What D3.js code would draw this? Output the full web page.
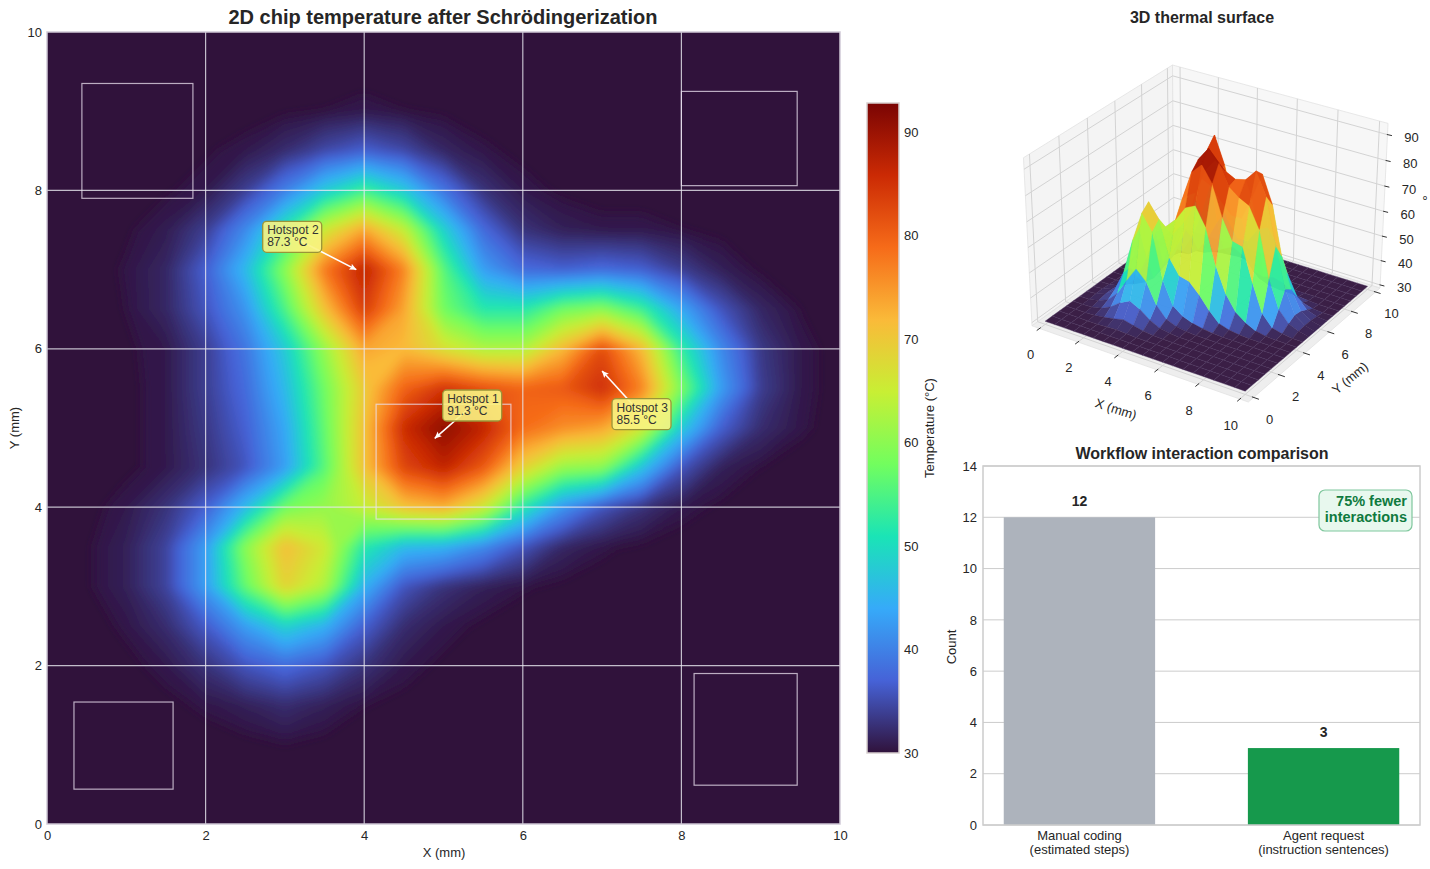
<!DOCTYPE html>
<html>
<head>
<meta charset="utf-8">
<script src="https://cdn.jsdelivr.net/npm/d3@7"></script>
<style>
  body { margin: 0; background: #fff; }
  svg { display: block; font-family: "Liberation Sans", Arial, sans-serif; fill: #262626; }
  .domain { display: none; }
</style>
</head>
<body>
<div id="chart"></div>
<script>
// Temperature, every 0.5 mm. First row is y = 0, first column x = 0
const temperatureGrid = [
  [30,30,30,30,30,30,30,30,30,30,30,30,30,30,30,30,30,30,30,30,30],
  [30,30,30,30,30,30,30,30,30,30,30,30,30,30,30,30,30,30,30,30,30],
  [30,30,30,30,30,30.2,30.5,30.2,30,30,30,30,30,30,30,30,30,30,30,30,30],
  [30,30,30,30.2,30.8,31.5,32.5,31.5,30.6,30.2,30,30,30,30,30,30,30,30,30,30,30],
  [30,30,30.2,31,33,36,38,36,33,31,30.3,30,30,30,30,30,30,30,30,30,30],
  [30,30,30.8,32.5,36.5,43,49,45,37,32.5,31,30.3,30,30,30,30,30,30,30,30,30],
  [30,30.4,31.5,34.5,43,57,69,63,45,36,33,31.5,30.7,30.2,30,30,30,30,30,30,30],
  [30,30.4,31.5,34.5,43,60,71.5,66,52,46,45,41,36,32,30.8,30.2,30,30,30,30,30],
  [30,30.2,31,33,37,46,58,61,65,71,73,66,52,42,36,33,31,30.3,30,30,30],
  [30,30,30.3,31,33,36,43,56,71,83,87,81,69,61,60,47,36,31.5,30.5,30,30],
  [30,30,30.3,31,33.5,37,44,57,71,86,91.3,87,79,76,74,66,48,37,32.5,30.8,30],
  [30,30,30.3,31,34,38,46,58,70,80,85,82,80,81,85.5,77,59,43,34,31,30],
  [30,30,30.4,31,34,39,48,61,74,72,67,63,63,72,82.5,72,53,41,33.5,31,30],
  [30,30,30.6,32,36,42,55,71,84,74,58,52,52,58,60,54,44,36,32,30.5,30],
  [30,30,30.7,32,37,46,60,78,87.3,77,56,43,38,37,38,37,34,31.5,30.3,30,30],
  [30,30,30.4,31.2,34,41,52,66,74,65,49,38,33,31.5,31,31,30.6,30.2,30,30,30],
  [30,30,30,30.4,31,34,40,48,54,48,39,33,31,30.3,30,30,30,30,30,30,30],
  [30,30,30,30,30.4,31,32.5,35,37,35,32,30.8,30.2,30,30,30,30,30,30,30,30],
  [30,30,30,30,30,30,30.3,30.6,31,30.6,30.3,30,30,30,30,30,30,30,30,30,30],
  [30,30,30,30,30,30,30,30,30,30,30,30,30,30,30,30,30,30,30,30,30],
  [30,30,30,30,30,30,30,30,30,30,30,30,30,30,30,30,30,30,30,30,30]
];

const turboColors = ["#30123b","#4662d7","#36aaf9","#1ae4b6","#72fe5e","#c8ef34","#faba39","#f66b19","#cb2a04","#7a0403"];
const tempDomain = [30, 92.8];
const colorbarTicks = [30, 40, 50, 60, 70, 80, 90];
const mapTicks = [0, 2, 4, 6, 8, 10];

// Chip blocks in mm: x0, x1, y0, y1
const blockX0 = [0.44, 8.0, 4.15, 0.34, 8.16];
const blockX1 = [1.84, 9.46, 5.85, 1.59, 9.46];
const blockY0 = [7.9, 8.06, 3.85, 0.44, 0.49];
const blockY1 = [9.35, 9.25, 5.3, 1.54, 1.9];

// Hotspot annotations: target and label corner in mm
const hotspotNames = ["Hotspot 1", "Hotspot 2", "Hotspot 3"];
const hotspotTemps = ["91.3 °C", "87.3 °C", "85.5 °C"];
const hotspotX = [4.89, 3.9, 7.0];
const hotspotY = [4.87, 7.0, 5.72];
const labelX = [4.99, 2.72, 7.125];
const labelY = [5.48, 7.61, 5.37];

const surfaceXTicks = [0, 2, 4, 6, 8, 10];
const surfaceYTicks = [0, 2, 4, 6, 8, 10];
const surfaceZTicks = [30, 40, 50, 60, 70, 80, 90];

const barLabels = [["Manual coding", "(estimated steps)"], ["Agent request", "(instruction sentences)"]];
const barValues = [12, 3];
const barColors = ["#adb3bc", "#16994c"];
const countTicks = [0, 2, 4, 6, 8, 10, 12, 14];

const svg = d3.select("#chart").append("svg")
  .attr("width", 1430)
  .attr("height", 869);

const defs = svg.append("defs");
const gridColor = "#cccccc";

// Shared colour scale
const color = d3.scaleLinear()
  .domain(turboColors.map((c, i) => tempDomain[0] + (tempDomain[1] - tempDomain[0]) * i / (turboColors.length - 1)))
  .range(turboColors)
  .clamp(true);

// ---------- 2D heat map ----------
const x = d3.scaleLinear().domain([0, 10]).range([47, 840]);
const y = d3.scaleLinear().domain([0, 10]).range([824, 32]);

defs.append("clipPath").attr("id", "map-clip")
  .append("rect").attr("x", 47).attr("y", 32).attr("width", 793).attr("height", 792);
defs.append("filter").attr("id", "soften")
  .attr("filterUnits", "userSpaceOnUse")
  .attr("x", 0).attr("y", 0).attr("width", 900).attr("height", 869)
  .append("feGaussianBlur").attr("stdDeviation", 5);

const map = svg.append("g").attr("clip-path", "url(#map-clip)");
map.append("rect")
  .attr("x", 47).attr("y", 32).attr("width", 793).attr("height", 792)
  .attr("fill", turboColors[0]);

const flatGrid = temperatureGrid.flat();
const contours = d3.contours()
  .size([21, 21])
  .thresholds(d3.range(30.6, 92, 0.4))(flatGrid);

// contour cells are centred on i + 0.5
const contourPath = d3.geoPath(d3.geoTransform({
  point(gx, gy) { this.stream.point(x((gx - 0.5) * 0.5), y((gy - 0.5) * 0.5)); }
}));

map.append("g")
  .attr("filter", "url(#soften)")
  .selectAll("path")
  .data(contours)
  .join("path")
  .attr("d", contourPath)
  .attr("fill", d => color(d.value));

// Grid lines over the field
const gridLineColor = "rgba(232,232,240,0.8)";
map.append("g").selectAll("line")
  .data([2, 4, 6, 8])
  .join("line")
  .attr("x1", d => x(d)).attr("x2", d => x(d))
  .attr("y1", 32).attr("y2", 824)
  .attr("stroke", gridLineColor).attr("stroke-width", 1.2);
map.append("g").selectAll("line")
  .data([2, 4, 6, 8])
  .join("line")
  .attr("y1", d => y(d)).attr("y2", d => y(d))
  .attr("x1", 47).attr("x2", 840)
  .attr("stroke", gridLineColor).attr("stroke-width", 1.2);

// Chip blocks
map.append("g").selectAll("rect")
  .data(blockX0)
  .join("rect")
  .attr("x", d => x(d))
  .attr("y", (d, i) => y(blockY1[i]))
  .attr("width", (d, i) => x(blockX1[i]) - x(d))
  .attr("height", (d, i) => y(blockY0[i]) - y(blockY1[i]))
  .attr("fill", "none")
  .attr("stroke", "rgba(235,225,240,0.75)")
  .attr("stroke-width", 1.2);

svg.append("rect")
  .attr("x", 47).attr("y", 32).attr("width", 793).attr("height", 792)
  .attr("fill", "none").attr("stroke", "#cfc9d6").attr("stroke-width", 1.5);

svg.append("g")
  .attr("transform", "translate(0,824)")
  .call(d3.axisBottom(x).tickValues(mapTicks).tickSize(0).tickPadding(7));
svg.append("g")
  .attr("transform", "translate(47,0)")
  .call(d3.axisLeft(y).tickValues(mapTicks).tickSize(0).tickPadding(5));

svg.append("text").attr("x", 443).attr("y", 24)
  .attr("text-anchor", "middle").style("font-size", "20px").style("font-weight", "bold")
  .text("2D chip temperature after Schrödingerization");
svg.append("text").attr("x", 444).attr("y", 857)
  .attr("text-anchor", "middle").style("font-size", "13px").text("X (mm)");
svg.append("text").attr("transform", "translate(19,428) rotate(-90)")
  .attr("text-anchor", "middle").style("font-size", "13px").text("Y (mm)");

// Hotspot annotations
defs.append("marker").attr("id", "arrow")
  .attr("viewBox", "0 0 10 10").attr("refX", 9.5).attr("refY", 5)
  .attr("markerWidth", 7).attr("markerHeight", 7).attr("markerUnits", "userSpaceOnUse")
  .attr("orient", "auto")
  .append("path").attr("d", "M0,0.5 L10,5 L0,9.5 L2,5 Z").attr("fill", "#fff");

const boxW = 59, boxH = 31;
const notes = svg.append("g").selectAll("g")
  .data(hotspotNames)
  .join("g");
notes.append("line")
  .attr("x1", (d, i) => x(labelX[i]) + boxW / 2)
  .attr("y1", (d, i) => y(labelY[i]) + boxH / 2)
  .attr("x2", (d, i) => x(hotspotX[i]))
  .attr("y2", (d, i) => y(hotspotY[i]))
  .attr("stroke", "#fff").attr("stroke-width", 1.6)
  .attr("marker-end", "url(#arrow)");
notes.append("rect")
  .attr("x", (d, i) => x(labelX[i]))
  .attr("y", (d, i) => y(labelY[i]))
  .attr("width", boxW).attr("height", boxH).attr("rx", 4)
  .attr("fill", "rgba(250,243,130,0.9)")
  .attr("stroke", "#9a9438").attr("stroke-width", 1.3);
notes.append("text")
  .attr("x", (d, i) => x(labelX[i]) + 4.5)
  .attr("y", (d, i) => y(labelY[i]) + 13)
  .style("font-size", "12px").style("fill", "#333")
  .text(d => d);
notes.append("text")
  .attr("x", (d, i) => x(labelX[i]) + 4.5)
  .attr("y", (d, i) => y(labelY[i]) + 25)
  .style("font-size", "12px").style("fill", "#333")
  .text((d, i) => hotspotTemps[i]);

// ---------- Colour bar ----------
const barScale = d3.scaleLinear().domain(tempDomain).range([753, 103]);
const gradient = defs.append("linearGradient").attr("id", "temp-gradient")
  .attr("x1", 0).attr("y1", 1).attr("x2", 0).attr("y2", 0);
gradient.selectAll("stop")
  .data(turboColors)
  .join("stop")
  .attr("offset", (d, i) => i / (turboColors.length - 1))
  .attr("stop-color", d => d);
svg.append("rect")
  .attr("x", 867).attr("y", 103).attr("width", 32).attr("height", 650)
  .attr("fill", "url(#temp-gradient)")
  .attr("stroke", "#d8d0d0").attr("stroke-width", 1.5);
svg.append("g")
  .attr("transform", "translate(899,0)")
  .call(d3.axisRight(barScale).tickValues(colorbarTicks).tickSize(0).tickPadding(5));
svg.append("text").attr("transform", "translate(934,428) rotate(-90)")
  .attr("text-anchor", "middle").style("font-size", "13px").text("Temperature (°C)");

// ---------- 3D surface ----------
const xLim = [-0.4, 10.4], yLim = [-0.4, 10.4], zLim = [28.7, 94.3];
const boxAspect = [1.19, 1.19, 0.93];
const azim = -57 * Math.PI / 180, elev = 30 * Math.PI / 180, camDist = 10;
const norm = [
  d3.scaleLinear().domain(xLim).range([-boxAspect[0] / 2, boxAspect[0] / 2]),
  d3.scaleLinear().domain(yLim).range([-boxAspect[1] / 2, boxAspect[1] / 2]),
  d3.scaleLinear().domain(zLim).range([-boxAspect[2] / 2, boxAspect[2] / 2])
];
const w = [Math.cos(elev) * Math.cos(azim), Math.cos(elev) * Math.sin(azim), Math.sin(elev)];
const u = [-Math.sin(azim), Math.cos(azim), 0];
const v = [w[1] * u[2] - w[2] * u[1], w[2] * u[0] - w[0] * u[2], w[0] * u[1] - w[1] * u[0]];

function camera(px, py, pz) {
  const p = [norm[0](px), norm[1](py), norm[2](pz)];
  const depth = camDist - d3.sum(p, (c, i) => c * w[i]);
  return {
    h: d3.sum(p, (c, i) => c * u[i]) / depth,
    v: d3.sum(p, (c, i) => c * v[i]) / depth,
    depth
  };
}
const screenX = d3.scaleLinear()
  .domain([camera(xLim[0], yLim[0], zLim[0]).h, camera(xLim[1], yLim[1], zLim[0]).h])
  .range([1032, 1380]);
const screenY = d3.scaleLinear()
  .domain([camera(xLim[1], yLim[0], zLim[0]).v, camera(xLim[0], yLim[1], zLim[1]).v])
  .range([402, 65]);
const project = (px, py, pz) => {
  const c = camera(px, py, pz);
  return [screenX(c.h), screenY(c.v)];
};
const line3d = d3.line();

const scene = svg.append("g");
const [x0, x1] = xLim, [y0, y1] = yLim, [z0, z1] = zLim;
const panes = [
  { pts: [[x0, y0, z0], [x0, y1, z0], [x0, y1, z1], [x0, y0, z1]], fill: "#f4f4f4" },
  { pts: [[x0, y1, z0], [x1, y1, z0], [x1, y1, z1], [x0, y1, z1]], fill: "#f7f7f7" },
  { pts: [[x0, y0, z0], [x1, y0, z0], [x1, y1, z0], [x0, y1, z0]], fill: "#eeeeee" }
];
scene.selectAll(".pane")
  .data(panes)
  .join("path")
  .attr("class", "pane")
  .attr("d", d => line3d(d.pts.map(p => project(...p))) + "Z")
  .attr("fill", d => d.fill)
  .attr("stroke", "#e2e2e2").attr("stroke-width", 0.8);

// Grid lines on the three panes
const paneLines = [];
surfaceXTicks.forEach(t => {
  paneLines.push([[t, y0, z0], [t, y1, z0], [t, y1, z1]]);
});
surfaceYTicks.forEach(t => {
  paneLines.push([[x1, t, z0], [x0, t, z0], [x0, t, z1]]);
});
surfaceZTicks.forEach(t => {
  paneLines.push([[x0, y0, t], [x0, y1, t], [x1, y1, t]]);
});
scene.selectAll(".pane-line")
  .data(paneLines)
  .join("path")
  .attr("class", "pane-line")
  .attr("d", d => line3d(d.map(p => project(...p))))
  .attr("fill", "none").attr("stroke", "#d3d3d3").attr("stroke-width", 1);

// Surface faces, far ones first
const faces = [];
temperatureGrid.slice(0, -1).forEach((row, j) => {
  row.slice(0, -1).forEach((t, i) => {
    const corners = [[i, j], [i + 1, j], [i + 1, j + 1], [i, j + 1]]
      .map(([a, b]) => [a * 0.5, b * 0.5, temperatureGrid[b][a]]);
    faces.push({
      corners,
      temp: (d3.mean(corners, c => c[2]) + d3.max(corners, c => c[2])) / 2,
      depth: d3.mean(corners, c => camera(...c).depth)
    });
  });
});
faces.sort((a, b) => b.depth - a.depth);
scene.selectAll(".face")
  .data(faces)
  .join("path")
  .attr("class", "face")
  .attr("d", d => line3d(d.corners.map(c => project(...c))) + "Z")
  .attr("fill", d => color(d.temp))
  .attr("fill-opacity", 0.94)
  .attr("stroke", d => d.temp < 30.5 ? "#4d3560" : color(d.temp))
  .attr("stroke-width", d => d.temp < 30.5 ? 0.4 : 0.3);

// Axis ticks and labels
const tickStroke = "#333";
function tick3d(from, to) {
  const a = project(...from), b = project(...to);
  scene.append("line")
    .attr("x1", a[0]).attr("y1", a[1]).attr("x2", b[0]).attr("y2", b[1])
    .attr("stroke", tickStroke).attr("stroke-width", 1);
}
function tickText(pos, dx, dy, label) {
  const a = project(...pos);
  scene.append("text")
    .attr("x", a[0] + dx).attr("y", a[1] + dy + 4.5)
    .attr("text-anchor", "middle").style("font-size", "13px").text(label);
}
surfaceXTicks.forEach(t => {
  tick3d([t, y0 + 0.08, z0], [t, y0 - 0.2, z0]);
  tickText([t, y0, z0], -9, 26, t);
});
surfaceYTicks.forEach(t => {
  tick3d([x1 - 0.08, t, z0], [x1 + 0.25, t, z0]);
  tickText([x1, t, z0], 16, 22, t);
});
surfaceZTicks.forEach(t => {
  tick3d([x1 - 0.03, y1, t], [x1 + 0.2, y1 + 0.02, t]);
  tickText([x1, y1, t], 24, 3, t);
});

svg.append("text").attr("transform", "translate(1116,409) rotate(18)")
  .attr("text-anchor", "middle").attr("dy", "0.35em").style("font-size", "13px").text("X (mm)");
svg.append("text").attr("transform", "translate(1350,378) rotate(-40)")
  .attr("text-anchor", "middle").attr("dy", "0.35em").style("font-size", "13px").text("Y (mm)");
// only the degree sign of the z label is left inside the figure
svg.append("text").attr("transform", "translate(1417,198) rotate(90)")
  .attr("text-anchor", "middle").style("font-size", "15px").text("°");
svg.append("text").attr("x", 1202).attr("y", 23)
  .attr("text-anchor", "middle").style("font-size", "16px").style("font-weight", "bold")
  .text("3D thermal surface");

// ---------- Bar chart ----------
const barX = d3.scaleBand().domain([0, 1]).range([983, 1420]).paddingInner(0.38).paddingOuter(0.085);
const barY = d3.scaleLinear().domain([0, 14]).range([825, 466]);

svg.append("g").selectAll("line")
  .data(countTicks)
  .join("line")
  .attr("x1", 983).attr("x2", 1420)
  .attr("y1", d => barY(d)).attr("y2", d => barY(d))
  .attr("stroke", gridColor).attr("stroke-width", 1);

svg.append("g").selectAll("rect")
  .data(barValues)
  .join("rect")
  .attr("x", (d, i) => barX(i))
  .attr("y", d => barY(d))
  .attr("width", barX.bandwidth())
  .attr("height", d => barY(0) - barY(d))
  .attr("fill", (d, i) => barColors[i]);

svg.append("rect")
  .attr("x", 983).attr("y", 466).attr("width", 437).attr("height", 359)
  .attr("fill", "none").attr("stroke", gridColor).attr("stroke-width", 1.5);

svg.append("g").selectAll("text")
  .data(barValues)
  .join("text")
  .attr("x", (d, i) => barX(i) + barX.bandwidth() / 2)
  .attr("y", d => barY(d) - 11)
  .attr("text-anchor", "middle")
  .style("font-size", "14px").style("font-weight", "bold")
  .text(d => d);

svg.append("g")
  .attr("transform", "translate(983,0)")
  .call(d3.axisLeft(barY).tickValues(countTicks).tickSize(0).tickPadding(6));

barLabels.forEach((lines, i) => {
  lines.forEach((txt, k) => {
    svg.append("text")
      .attr("x", barX(i) + barX.bandwidth() / 2)
      .attr("y", 840 + k * 14)
      .attr("text-anchor", "middle").style("font-size", "13px")
      .text(txt);
  });
});
svg.append("text").attr("transform", "translate(956,647) rotate(-90)")
  .attr("text-anchor", "middle").style("font-size", "13px").text("Count");
svg.append("text").attr("x", 1202).attr("y", 459)
  .attr("text-anchor", "middle").style("font-size", "16px").style("font-weight", "bold")
  .text("Workflow interaction comparison");

svg.append("rect")
  .attr("x", 1319).attr("y", 490).attr("width", 93).attr("height", 41).attr("rx", 6)
  .attr("fill", "#e8f8ee").attr("stroke", "#7fc79d").attr("stroke-width", 1.2);
["75% fewer", "interactions"].forEach((txt, i) => {
  svg.append("text")
    .attr("x", 1407).attr("y", 506 + i * 16)
    .attr("text-anchor", "end")
    .style("font-size", "14.5px").style("font-weight", "bold").style("fill", "#0f7a3e")
    .text(txt);
});

svg.selectAll(".tick text").style("font-size", "13px").style("fill", "#262626")
  .style("font-family", '"Liberation Sans", Arial, sans-serif');
</script>
</body>
</html>
